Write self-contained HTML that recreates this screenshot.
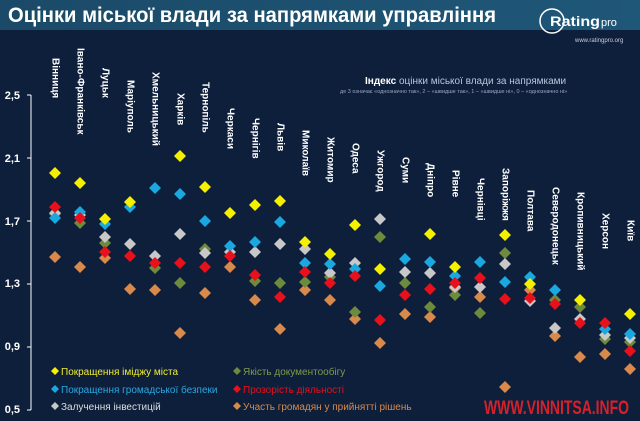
<!DOCTYPE html>
<html><head><meta charset="utf-8"><style>
body{margin:0;width:640px;height:416px;overflow:hidden;background:#0e1f3c;font-family:"Liberation Sans",sans-serif}
</style></head><body>
<svg width="640" height="416" xmlns="http://www.w3.org/2000/svg" font-family="Liberation Sans, sans-serif">
<defs><linearGradient id="hg" x1="0" y1="0" x2="1" y2="0"><stop offset="0" stop-color="#1b4a68"/><stop offset="1" stop-color="#1f5778"/></linearGradient>
<path id="dm" d="M0 -6l6 6-6 6-6-6z"/></defs>
<rect width="640" height="416" fill="#0e1f3c"/>
<rect width="640" height="30" fill="url(#hg)"/>
<text x="8" y="22" fill="#fff" font-size="21" font-weight="bold" textLength="488" lengthAdjust="spacingAndGlyphs">Оцінки міської влади за напрямками управління</text>
<circle cx="552" cy="21" r="12" fill="none" stroke="#fff" stroke-width="1.5"/>
<text x="550" y="26" fill="#fff" font-size="14" font-weight="bold" textLength="50" lengthAdjust="spacingAndGlyphs">Rating</text>
<text x="601" y="26" fill="#fff" font-size="11">pro</text>
<text x="575" y="42" fill="#ccd" font-size="6">www.ratingpro.org</text>
<text x="365" y="84" fill="#fff" font-size="10" font-weight="bold">Індекс <tspan fill="#b8c6dc" font-weight="normal">оцінки міської влади за напрямками</tspan></text>
<text x="340" y="93" fill="#9aa8c0" font-size="5.5">де 3 означає «однозначно так», 2 – «швидше так», 1 – «швидше ні», 0 – «однозначно ні»</text>
<g fill="#fff" font-size="11" font-weight="bold" text-anchor="end">
<text x="20" y="99">2,5</text><text x="20" y="162">2,1</text><text x="20" y="225">1,7</text><text x="20" y="287">1,3</text><text x="20" y="350">0,9</text><text x="20" y="413">0,5</text></g>
<path d="M31 95V410M27 95H31M27 158H31M27 221H31M27 284H31M27 347H31M27 410H31" stroke="#fff" stroke-width="1" fill="none"/>
<g fill="#fff" font-size="10" font-weight="bold" style="writing-mode:vertical-rl">
<text x="55" y="58">Вінниця</text><text x="80" y="48">Івано-Франківськ</text><text x="105" y="68">Луцьк</text>
<text x="130" y="80">Маріуполь</text><text x="155" y="72">Хмельницький</text><text x="180" y="93">Харків</text>
<text x="205" y="82">Тернопіль</text><text x="230" y="108">Черкаси</text><text x="255" y="118">Чернігів</text>
<text x="280" y="123">Львів</text><text x="305" y="130">Миколаїв</text><text x="330" y="137">Житомир</text>
<text x="355" y="143">Одеса</text><text x="380" y="150">Ужгород</text><text x="405" y="157">Суми</text>
<text x="430" y="163">Дніпро</text><text x="455" y="170">Рівне</text><text x="480" y="178">Чернівці</text>
<text x="505" y="168">Запоріжжя</text><text x="530" y="190">Полтава</text><text x="555" y="187">Северодонецьк</text>
<text x="580" y="192">Кропивницький</text><text x="605" y="213">Херсон</text><text x="630" y="220">Київ</text></g>
<g fill="#d98a4a">
<use href="#dm" x="55" y="257"/><use href="#dm" x="80" y="267"/><use href="#dm" x="105" y="258"/><use href="#dm" x="130" y="289"/><use href="#dm" x="155" y="290"/><use href="#dm" x="180" y="333"/><use href="#dm" x="205" y="293"/><use href="#dm" x="230" y="267"/><use href="#dm" x="255" y="300"/><use href="#dm" x="280" y="329"/><use href="#dm" x="305" y="290"/><use href="#dm" x="330" y="300"/><use href="#dm" x="355" y="319"/><use href="#dm" x="380" y="343"/><use href="#dm" x="405" y="314"/><use href="#dm" x="430" y="317"/><use href="#dm" x="455" y="288"/><use href="#dm" x="480" y="297"/><use href="#dm" x="505" y="387"/><use href="#dm" x="530" y="290"/><use href="#dm" x="555" y="336"/><use href="#dm" x="580" y="357"/><use href="#dm" x="605" y="354"/><use href="#dm" x="630" y="369"/></g>
<g fill="#6e8b3d">
<use href="#dm" x="55" y="214"/><use href="#dm" x="80" y="223"/><use href="#dm" x="105" y="243"/><use href="#dm" x="155" y="268"/><use href="#dm" x="180" y="283"/><use href="#dm" x="205" y="249"/><use href="#dm" x="255" y="281"/><use href="#dm" x="280" y="283"/><use href="#dm" x="305" y="282"/><use href="#dm" x="330" y="277"/><use href="#dm" x="355" y="312"/><use href="#dm" x="380" y="237"/><use href="#dm" x="405" y="283"/><use href="#dm" x="430" y="307"/><use href="#dm" x="455" y="295"/><use href="#dm" x="480" y="313"/><use href="#dm" x="505" y="253"/><use href="#dm" x="555" y="300"/><use href="#dm" x="580" y="307"/><use href="#dm" x="605" y="339"/><use href="#dm" x="630" y="342"/></g>
<g fill="#c8c8c8">
<use href="#dm" x="55" y="213"/><use href="#dm" x="80" y="215"/><use href="#dm" x="105" y="237"/><use href="#dm" x="130" y="244"/><use href="#dm" x="155" y="256"/><use href="#dm" x="180" y="234"/><use href="#dm" x="205" y="253"/><use href="#dm" x="230" y="252"/><use href="#dm" x="255" y="252"/><use href="#dm" x="280" y="244"/><use href="#dm" x="305" y="249"/><use href="#dm" x="330" y="273"/><use href="#dm" x="355" y="263"/><use href="#dm" x="380" y="219"/><use href="#dm" x="405" y="272"/><use href="#dm" x="430" y="273"/><use href="#dm" x="455" y="287"/><use href="#dm" x="480" y="287"/><use href="#dm" x="505" y="264"/><use href="#dm" x="530" y="301"/><use href="#dm" x="555" y="328"/><use href="#dm" x="580" y="319"/><use href="#dm" x="605" y="335"/><use href="#dm" x="630" y="338"/></g>
<g fill="#19a8e0">
<use href="#dm" x="55" y="218"/><use href="#dm" x="80" y="212"/><use href="#dm" x="105" y="224"/><use href="#dm" x="130" y="207"/><use href="#dm" x="155" y="188"/><use href="#dm" x="180" y="194"/><use href="#dm" x="205" y="221"/><use href="#dm" x="230" y="246"/><use href="#dm" x="255" y="242"/><use href="#dm" x="280" y="222"/><use href="#dm" x="305" y="263"/><use href="#dm" x="330" y="264"/><use href="#dm" x="355" y="269"/><use href="#dm" x="380" y="286"/><use href="#dm" x="405" y="259"/><use href="#dm" x="430" y="262"/><use href="#dm" x="455" y="276"/><use href="#dm" x="480" y="262"/><use href="#dm" x="505" y="282"/><use href="#dm" x="530" y="277"/><use href="#dm" x="555" y="290"/><use href="#dm" x="605" y="329"/><use href="#dm" x="630" y="334"/></g>
<g fill="#e8101a">
<use href="#dm" x="55" y="207"/><use href="#dm" x="80" y="218"/><use href="#dm" x="105" y="252"/><use href="#dm" x="130" y="256"/><use href="#dm" x="155" y="263"/><use href="#dm" x="180" y="263"/><use href="#dm" x="205" y="267"/><use href="#dm" x="230" y="256"/><use href="#dm" x="255" y="275"/><use href="#dm" x="280" y="297"/><use href="#dm" x="305" y="272"/><use href="#dm" x="330" y="283"/><use href="#dm" x="355" y="276"/><use href="#dm" x="380" y="320"/><use href="#dm" x="405" y="295"/><use href="#dm" x="430" y="289"/><use href="#dm" x="455" y="283"/><use href="#dm" x="480" y="278"/><use href="#dm" x="505" y="299"/><use href="#dm" x="530" y="298"/><use href="#dm" x="555" y="304"/><use href="#dm" x="580" y="323"/><use href="#dm" x="605" y="323"/><use href="#dm" x="630" y="351"/></g>
<g fill="#f5f000">
<use href="#dm" x="55" y="173"/><use href="#dm" x="80" y="183"/><use href="#dm" x="105" y="219"/><use href="#dm" x="130" y="202"/><use href="#dm" x="180" y="156"/><use href="#dm" x="205" y="187"/><use href="#dm" x="230" y="213"/><use href="#dm" x="255" y="205"/><use href="#dm" x="280" y="201"/><use href="#dm" x="305" y="242"/><use href="#dm" x="330" y="254"/><use href="#dm" x="355" y="225"/><use href="#dm" x="380" y="269"/><use href="#dm" x="430" y="234"/><use href="#dm" x="455" y="267"/><use href="#dm" x="505" y="235"/><use href="#dm" x="530" y="284"/><use href="#dm" x="580" y="300"/><use href="#dm" x="630" y="314"/></g>
<g font-size="10">
<path d="M55 367l4 4-4 4-4-4z" fill="#f5f000"/><text x="61" y="375" fill="#f0ec30">Покращення іміджу міста</text>
<path d="M55 385l4 4-4 4-4-4z" fill="#19a8e0"/><text x="61" y="393" fill="#2aa8e0">Покращення громадської безпеки</text>
<path d="M55 402l4 4-4 4-4-4z" fill="#c8c8c8"/><text x="61" y="410" fill="#ddd">Залучення інвестицій</text>
<path d="M237 367l4 4-4 4-4-4z" fill="#6e8b3d"/><text x="243" y="375" fill="#7f9a4a">Якість документообігу</text>
<path d="M237 385l4 4-4 4-4-4z" fill="#e8101a"/><text x="243" y="393" fill="#e8101a">Прозорість діяльності</text>
<path d="M237 402l4 4-4 4-4-4z" fill="#d98a4a"/><text x="243" y="410" fill="#d98a4a">Участь громадян у прийнятті рішень</text>
</g>
<text x="484" y="414" fill="#d8202a" font-size="19" font-weight="bold" textLength="145" lengthAdjust="spacingAndGlyphs">WWW.VINNITSA.INFO</text>
</svg>
</body></html>
